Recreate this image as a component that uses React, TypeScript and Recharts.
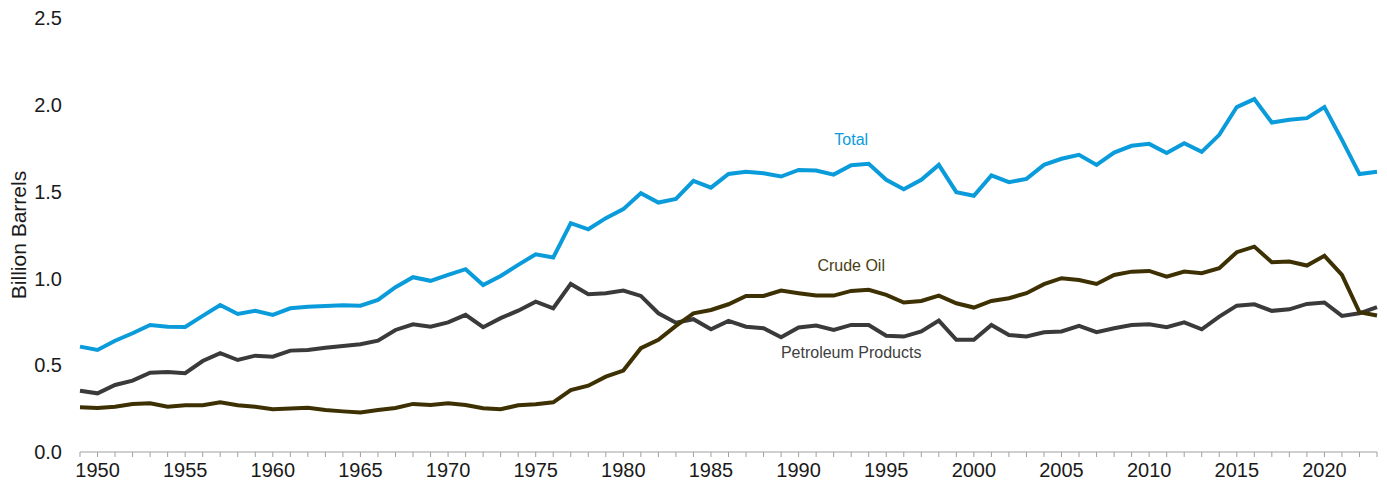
import { Line, LineChart, ReferenceDot, XAxis, YAxis } from 'recharts'

const years = Array.from({ length: 75 }, (_, i) => 1949 + i)

const total = [
  0.607, 0.588, 0.641, 0.684, 0.732, 0.722, 0.72, 0.784, 0.847, 0.795,
  0.813, 0.79, 0.828, 0.837, 0.841, 0.845, 0.843, 0.876, 0.949, 1.007,
  0.986, 1.02, 1.053, 0.962, 1.014, 1.078, 1.139, 1.12, 1.318, 1.283,
  1.347, 1.399, 1.491, 1.437, 1.458, 1.562, 1.523, 1.602, 1.614, 1.606,
  1.587, 1.625, 1.621, 1.598, 1.652, 1.66, 1.568, 1.514, 1.568, 1.654,
  1.497, 1.476, 1.593, 1.554, 1.573, 1.654, 1.689, 1.712, 1.654, 1.725,
  1.764, 1.775, 1.722, 1.779, 1.729, 1.827, 1.987, 2.033, 1.898, 1.914,
  1.923, 1.987, 1.798, 1.601, 1.614,
]

const crudeOil = [
  0.258, 0.254, 0.261, 0.277, 0.281, 0.261, 0.269, 0.269, 0.286, 0.269,
  0.261, 0.246, 0.25, 0.255, 0.242, 0.234, 0.227, 0.242, 0.254, 0.277,
  0.271, 0.281, 0.271, 0.252, 0.246, 0.269, 0.275, 0.286, 0.357, 0.382,
  0.434, 0.469, 0.598, 0.646, 0.726, 0.799, 0.818, 0.851, 0.899, 0.899,
  0.93, 0.915, 0.901, 0.901, 0.928, 0.934, 0.905, 0.861, 0.87, 0.901,
  0.857, 0.832, 0.87, 0.886, 0.915, 0.967, 1.001, 0.991, 0.968, 1.02,
  1.039, 1.043, 1.01, 1.039, 1.03, 1.059, 1.151, 1.183, 1.093, 1.097,
  1.074, 1.13, 1.02, 0.805, 0.786,
]

const petroleumProducts = [
  0.353, 0.338, 0.386, 0.411, 0.457, 0.461, 0.454, 0.524, 0.569, 0.53,
  0.555, 0.549, 0.584, 0.588, 0.601, 0.611, 0.621, 0.641, 0.703, 0.736,
  0.722, 0.747, 0.79, 0.719, 0.771, 0.814, 0.866, 0.828, 0.968, 0.909,
  0.915, 0.93, 0.899, 0.799, 0.745, 0.765, 0.707, 0.755, 0.722, 0.713,
  0.661, 0.717, 0.728, 0.703, 0.732, 0.732, 0.67, 0.665, 0.694, 0.757,
  0.646, 0.646, 0.732, 0.674, 0.665, 0.69, 0.694, 0.726, 0.69, 0.713,
  0.732, 0.736, 0.719, 0.747, 0.707, 0.78, 0.843, 0.851, 0.813, 0.822,
  0.853, 0.861, 0.784, 0.799, 0.834,
]

const yTicks = [0, 0.5, 1, 1.5, 2, 2.5]

const data = years.map((year, i) => ({
  year,
  total: total[i],
  crude: crudeOil[i],
  products: petroleumProducts[i],
}))

const FONT = '"Liberation Sans", Arial, sans-serif'
const BLUE = '#0a9bdb'
const BROWN = '#3d3104'
const GRAY = '#3a3a3a'

const AxisTitle = () => (
  <text
    x={18}
    y={235}
    transform="rotate(-90, 18, 235)"
    textAnchor="middle"
    dominantBaseline="central"
    fontSize={21}
    fontFamily={FONT}
    fill="#1a1a1a"
  >
    Billion Barrels
  </text>
)

export default function App() {
  return (
    <div style={{ position: 'absolute', left: 0, top: 0, background: '#fff' }}>
      <LineChart width={1387} height={493} data={data} margin={{ top: 18, right: 10, bottom: 0, left: 0 }}>
        <XAxis
          dataKey="year"
          type="number"
          domain={[1949, 2023]}
          ticks={years}
          interval={0}
          tickFormatter={(v: number) => (v % 5 === 0 ? String(v) : '')}
          stroke="#a0a0a0"
          tickSize={5}
          tickMargin={6}
          height={41}
          tick={{ fill: '#1a1a1a', fontSize: 20, fontFamily: FONT }}
        />
        <YAxis
          type="number"
          domain={[0, 2.5]}
          ticks={yTicks}
          axisLine={false}
          tickLine={false}
          tickSize={0}
          tickMargin={18}
          width={80}
          tickFormatter={(v: number) => v.toFixed(1)}
          tick={{ fill: '#1a1a1a', fontSize: 20, fontFamily: FONT }}
          label={AxisTitle}
        />
        <Line type="linear" dataKey="total" stroke={BLUE} strokeWidth={4} dot={false} isAnimationActive={false} />
        <Line type="linear" dataKey="products" stroke={GRAY} strokeWidth={4} dot={false} isAnimationActive={false} />
        <Line type="linear" dataKey="crude" stroke={BROWN} strokeWidth={4} dot={false} isAnimationActive={false} />
        <ReferenceDot
          x={1993}
          y={1.8}
          r={0}
          ifOverflow="visible"
          label={{ value: 'Total', position: 'center', fill: BLUE, fontSize: 16, fontFamily: FONT }}
        />
        <ReferenceDot
          x={1993}
          y={1.078}
          r={0}
          ifOverflow="visible"
          label={{ value: 'Crude Oil', position: 'center', fill: '#4a3d12', fontSize: 16, fontFamily: FONT }}
        />
        <ReferenceDot
          x={1993}
          y={0.576}
          r={0}
          ifOverflow="visible"
          label={{ value: 'Petroleum Products', position: 'center', fill: '#404040', fontSize: 16, fontFamily: FONT }}
        />
      </LineChart>
    </div>
  )
}
